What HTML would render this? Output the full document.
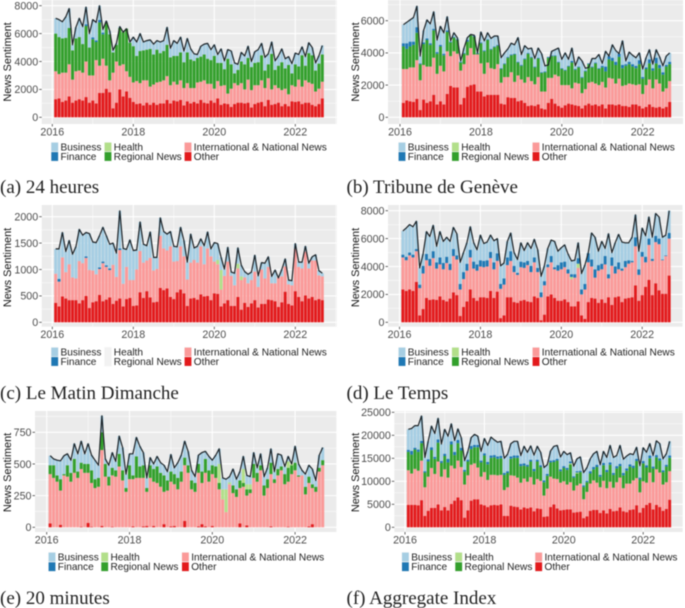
<!DOCTYPE html>
<html lang="en">
<head>
<meta charset="utf-8">
<title>News Sentiment by Outlet</title>
<style>
html,body{margin:0;padding:0;background:#fff;}
svg{display:block;filter:blur(0.45px);}
text{font-family:"Liberation Sans",sans-serif;}
.cap{font-family:"Liberation Serif",serif;font-size:19px;fill:#222;}
</style>
</head>
<body>
<svg id="fig" width="685" height="608" viewBox="0 0 685 608" xmlns="http://www.w3.org/2000/svg"></svg>
<script>
// Values. "Top" arrays are the upper edge of a stacked band;
// one row per calendar year: 2016 (Feb-Dec), 2017-2021, 2022 (Jan-Sep).
const legendLabels = ["Business","Finance","Health","Regional News","International & National News","Other"];
const xTickYears = [2016,2018,2020,2022];

// (a) 24 heures
const aYTicks = [0,2000,4000,6000,8000];
const aOther = [1300,1350,1100,1200,1500,1050,1200,1300,1200,1450,1050,
1200,1000,1750,1750,2050,1800,650,1050,2000,1500,1850,1400,
1100,950,1000,850,1050,900,1050,900,1000,1000,1250,1000,
1200,1150,1250,850,1150,1000,1100,1000,1250,1050,1000,1200,
1050,1350,900,1000,950,750,950,1050,1050,1000,1050,700,
950,1050,1100,800,1250,900,950,1050,800,950,800,1150,
1100,1150,950,1050,1050,900,800,950,1350];
const aIntlTop = [3300,3100,3200,3200,3800,2700,3300,3350,3200,4000,3000,
3000,4100,3700,4200,3700,2650,3200,4000,3700,3800,3300,2900,
2500,2600,2450,2650,2650,2200,2350,2500,2550,2650,2950,2300,
2550,2350,2650,2100,2450,2100,2100,2500,2550,2650,2400,2400,
2050,2600,2250,2300,1700,2050,2450,2300,2450,2000,2700,1950,
2300,2300,2650,2100,2800,2000,2300,2100,1950,2050,1650,2300,
2200,2700,2200,2650,2500,2400,1850,2050,2550];
const aRegionalTop = [6000,5750,5650,5700,6400,4800,5650,5750,5250,6550,5000,
5600,5400,6800,5950,6800,5950,4650,5200,6400,6100,6350,5350,
5100,4400,4750,4800,4850,4900,4500,4850,4600,4750,5200,4300,
4400,4400,4650,3950,4650,4150,4050,4250,4350,4500,4200,4100,
4400,3900,3900,3450,4200,3800,3150,3400,4000,3800,4250,3600,
3900,3950,4450,3350,3800,4550,3400,3700,3950,3500,3750,3150,
3800,3650,4450,3700,4600,4450,3350,3850,4500];
const aFinanceMonths = [9,11,12,13,14];
const aFinanceSizes = [120,120,120,180,120];
const aTotal = [7100,7000,6850,7200,7800,5200,6450,7100,6500,7900,6000,
7000,6800,8000,6300,6900,6200,4800,5300,6500,6100,6350,5400,
5750,5400,6000,5400,5500,5550,5250,5500,5400,5500,6450,4950,
5500,5300,5750,4750,5650,4900,4550,4500,5100,5250,5300,4850,
5200,4500,4900,4050,4850,4750,3900,3800,4650,4400,5100,4000,
4700,4850,5300,4300,4550,5400,4050,4400,4900,4200,4350,3850,
4600,4500,5050,4350,5350,5000,3900,4400,5150];

// (b) Tribune de Geneve
const bYTicks = [0,2000,4000,6000];
const bOther = [900,1050,1000,950,1150,450,1100,900,1000,1400,800,
1000,800,1450,1950,1850,1850,800,1200,1900,2000,2050,1600,
1600,1300,1400,1400,1400,1400,850,800,1250,1200,1200,1000,
1050,900,700,750,700,800,550,500,900,1150,850,700,
600,750,850,800,750,700,550,750,850,750,800,700,
800,550,800,800,750,800,700,700,650,800,800,700,
550,650,800,650,600,650,550,650,950];
const bIntlTop = [3000,3000,3100,3100,3550,2300,3250,3150,3150,3700,2700,
3200,2850,4100,3800,4100,3950,2900,3300,3850,4300,3900,3900,
3350,2700,3400,3050,3000,3300,2150,2500,2500,2800,2200,2600,
2350,2150,2500,2250,2050,2500,1600,1600,2450,2450,2650,2550,
2000,2000,2000,1800,2150,2100,1500,1750,2150,2200,2100,2000,
2200,1850,2450,2400,2100,2400,1950,2000,2100,2050,2000,2050,
1450,2000,2350,1800,2350,2100,1600,1800,2250];
const bRegionalTop = [4400,4250,4400,4500,5250,3300,4550,4800,4500,5400,3950,
4400,3850,5300,4650,4950,4800,3400,3950,4700,5100,5000,3950,
4600,4100,4800,4200,4350,4450,3000,3300,3700,3850,3900,3400,
3200,3600,3950,3700,3100,3650,2750,2800,3700,3800,3800,3400,
3000,2900,3150,3400,2950,3100,2450,2850,3300,3100,3350,3000,
3100,2850,3600,3500,3250,3750,3050,3200,3300,3150,3050,3300,
2400,3000,3350,2900,3350,3050,2650,3150,3300];
const bFinanceSizes = [200,350,300,200,350,50,100,100,100,100,100,
100,100,100,50,50,50,50,50,100,50,50,50,
50,50,50,50,50,50,50,50,50,50,50,50,
50,50,50,50,50,50,50,50,50,50,50,50,
50,50,50,100,50,50,50,50,50,50,50,50,
100,300,200,200,200,200,200,100,150,150,150,250,
100,100,250,150,350,200,150,100,150];
const bTotal = [5750,5900,6050,6200,6900,3800,5400,6050,5800,6550,4800,
5650,5250,6250,4750,5250,4950,3500,4300,4950,5150,5100,4000,
5300,4750,5250,4900,5050,5050,3700,4000,4250,4600,4500,4950,
3900,4450,4250,4300,3650,4300,3950,3200,3250,4100,4200,4300,
3600,4000,3600,4300,3200,3750,3500,3050,3100,3650,3650,3900,
3350,4100,3800,4500,4150,3950,4750,3500,4050,3850,3700,4000,
3000,3700,4200,3300,4200,3750,3200,3800,4000];

// (c) Le Matin Dimanche
const cYTicks = [0,500,1000,1500,2000];
const cOther = [370,300,490,450,420,420,420,360,420,500,270,
380,400,520,400,430,470,350,410,450,300,440,460,
310,320,570,460,590,470,380,390,650,610,640,480,
440,570,620,550,310,450,460,430,530,490,500,420,
550,540,300,360,420,310,310,480,240,370,290,360,
420,280,350,350,430,420,400,290,380,580,350,320,
590,480,400,510,450,480,420,440,420];
const cIntlTop = [920,770,1230,950,1100,850,830,1160,1120,1220,990,
980,910,1010,1120,1050,990,1090,860,1370,730,1050,800,
800,1000,1350,1130,1170,1220,980,1010,1640,1400,1360,1440,
1150,1160,1440,1250,810,1130,1180,1130,1440,1100,1400,1250,
1150,1100,620,880,1150,880,700,1020,800,850,740,800,
960,670,1000,830,1050,740,740,850,870,1060,720,700,
1390,1050,1020,1340,1020,1170,1170,890,870];
const cHealthMonths = [48,49,54,55];
const cHealthSizes = [80,370,90,70];
const cFinanceMonths = [1,9,13,14,15,16,19];
const cFinanceSizes = [50,30,30,30,30,30,30];
const cTotal = [1390,1390,1700,1340,1550,1290,1430,1760,1650,1700,1680,
1520,1510,1640,1800,1640,1480,1500,1310,2110,1400,1380,1560,
1360,1370,1900,1480,1450,1710,1230,1230,1980,1720,1670,1720,
1440,1430,1800,1550,1140,1670,1410,1440,1580,1450,1710,1390,
1510,1490,1230,1010,1420,950,930,1410,1080,960,910,950,
1270,880,1130,1120,1240,870,990,840,1000,1200,800,790,
1490,1140,1140,1440,1120,1240,1280,980,930];

// (d) Le Temps
const dYTicks = [0,2000,4000,6000,8000];
const dOther = [2350,2250,2350,2250,2900,500,950,1750,1600,1650,1600,
1850,1600,1500,1700,2150,1950,450,1100,1500,2350,1750,1550,
1800,1800,1750,2250,1750,2200,300,500,1800,1800,1450,1400,
1550,1600,1500,1450,1850,1750,150,550,1850,2000,1750,1550,
1550,1650,1450,1150,1150,1500,500,250,1450,1750,1700,1400,
1650,1400,1800,1250,1800,1850,1450,1700,1750,1800,2650,1550,
1950,2550,3050,1950,2800,2300,2050,2050,3350];
const dIntlTop = [4650,4450,4800,4650,5100,2450,3500,4450,4050,4600,3850,
4150,3800,4250,3750,4750,4500,2350,3100,3700,4650,3850,3700,
4000,3950,4000,4600,3800,4400,2400,2700,4100,4400,3600,3400,
3950,3900,4100,3600,4300,3600,1800,2650,3950,4300,3800,3700,
3800,3950,3500,3100,3200,3900,2000,2350,4300,4000,3200,3700,
3800,4150,3150,4050,3500,3800,3700,3950,4200,4300,5450,3400,
4700,4300,5550,4400,5750,5600,4450,4750,6000];
const dHealthMonths = [50,52];
const dHealthSizes = [150,300];
const dFinanceSizes = [200,250,200,200,150,250,550,450,500,500,450,
500,450,450,450,500,300,400,500,500,550,500,450,
450,450,450,450,500,550,350,450,550,700,450,150,
400,400,300,450,350,300,350,300,200,450,150,400,
500,400,300,200,250,400,350,400,650,500,600,400,
400,600,300,600,500,500,150,450,250,100,650,400,
350,400,450,150,450,400,50,50,400];
const dTotal = [6550,6750,7000,6850,7250,3900,4900,6500,6150,6950,5450,
6500,5800,6100,5800,6800,6350,4300,5000,5700,6850,5700,5200,
6250,5650,5750,6250,5850,6000,4050,4250,5800,6400,5000,4500,
5700,5150,5700,5300,5950,5200,3300,4050,5300,5900,5800,5100,
5350,5550,4900,4400,4450,5700,3500,4100,5000,6400,6100,5100,
5800,5300,6350,5000,5700,6300,5750,5700,5700,6100,7700,5100,
6750,6200,7550,6100,7800,7550,6100,6250,8000];

// (e) 20 minutes
const eYTicks = [0,250,500,750];
const eOther = [30,0,0,20,0,0,0,0,0,5,0,
35,5,0,0,10,0,0,5,0,0,0,0,
0,8,0,0,8,10,0,10,0,0,25,0,
8,10,0,0,50,0,0,0,8,25,8,0,
10,0,0,0,0,0,0,0,30,0,15,0,
0,0,0,0,0,8,0,0,0,0,5,0,
0,0,0,0,8,25,0,0,0];
const eIntlTop = [420,390,360,290,410,400,360,430,390,460,430,
430,350,310,320,610,400,330,410,400,480,370,280,
380,380,390,390,390,280,390,360,350,320,280,290,
360,340,300,360,490,430,300,280,430,350,430,360,
420,390,300,220,120,340,270,240,310,320,250,270,
390,360,450,250,310,420,350,410,450,340,360,420,
450,400,410,260,350,310,280,440,490];
const eRegionalTop = [490,490,410,380,420,490,430,540,440,510,500,
500,450,380,390,750,500,400,470,450,580,450,310,
490,410,560,480,490,310,490,460,480,430,410,370,
440,420,390,440,550,490,370,350,500,440,540,450,
490,480,350,220,120,340,330,300,370,350,300,300,
500,430,490,330,380,510,380,460,480,420,470,490,
510,410,410,320,400,340,320,470,530];
const eHealthMonths = [49,50,51,52,56,57,58,69,70];
const eHealthSizes = [150,80,180,15,110,40,40,50,10];
const eTotal = [565,540,530,525,565,580,530,660,580,680,580,
660,570,530,490,880,540,490,590,520,720,630,420,
580,580,710,640,590,390,550,500,560,510,490,440,
575,470,510,570,680,600,450,400,570,590,600,560,
530,570,620,390,380,400,460,380,440,560,410,400,
590,470,580,400,470,620,440,580,570,480,560,500,
640,500,450,420,490,460,370,570,630];

// (f) Aggregate Index
const fYTicks = [0,5000,10000,15000,20000,25000];
const fOther = [4900,4900,4900,4800,5900,2500,3600,4200,4200,5000,3700,
4400,3700,5100,5800,6500,5900,2100,3700,5800,6100,6100,5000,
4800,4400,4800,4900,4800,5000,2500,2500,4700,4500,4400,3900,
4300,4100,4300,3500,4100,4000,2300,2400,4400,5000,4100,3700,
3800,3900,3900,3200,3300,3400,2000,2400,3600,3800,3800,3100,
3700,3000,4000,3500,3600,4300,3500,3300,3800,3900,4800,3200,
4200,4900,5300,3900,4900,4400,3600,4000,6000];
const fIntlTop = [12400,11700,12700,12300,14500,8700,11000,12900,11600,14300,11000,
12600,10800,13400,12800,14500,13100,9300,11300,13600,13900,13000,11000,
12000,10300,11400,11400,11300,11400,8100,8700,11300,11200,10800,9700,
10600,9900,10900,9300,10500,10100,6900,8400,11000,10600,10500,9700,
10000,9300,9800,8000,9100,9500,6100,7700,9500,10200,9700,8700,
10100,8500,9900,8600,9800,10800,8500,9500,9500,10200,10700,7600,
10000,9700,11900,9800,12600,11900,9300,9800,12200];
const fRegionalTop = [16400,15800,16900,16400,18300,11900,14300,16800,14900,18400,14000,
15500,14100,18000,15700,18300,16700,12100,14300,17000,17400,17400,14100,
15600,13700,15100,15200,14900,15000,11400,11800,14900,15100,15100,13300,
13400,13200,14300,12200,14300,13100,9800,11200,14100,14200,14500,12200,
12900,12500,13700,10800,11700,12000,8800,9800,11700,12600,13100,11000,
13500,12000,13600,11400,12800,13300,11300,12300,13200,12900,14400,10400,
13900,13000,15000,12800,15200,14500,12000,13200,15100];
const fHealthMonths = [49,51];
const fHealthSizes = [200,200];
const fFinanceSizes = [450,800,400,500,500,300,500,600,400,700,400,
500,800,700,700,700,600,400,400,700,500,500,400,
500,500,500,500,500,500,400,400,500,500,500,500,
500,400,400,500,400,400,400,400,400,400,400,400,
400,400,400,300,300,300,300,300,500,500,500,400,
500,500,500,400,500,500,500,500,500,500,500,400,
500,500,600,400,500,500,400,400,500];
const fTotal = [21300,21500,22100,22100,24200,15200,18700,22000,20400,23700,18100,
21300,19800,22500,18900,21400,19500,14500,16500,19500,20200,19800,16500,
19300,17800,19600,19000,18500,18700,15000,15900,18200,18700,18700,15600,
17600,16300,17700,15700,17600,16300,13000,13600,16600,17600,17800,15300,
16500,15800,16200,13300,14900,15300,11900,13000,14900,16000,16500,13600,
16500,15200,17800,15200,15600,17800,14800,15500,16000,15800,17400,13400,
17300,16300,18200,15600,18800,18200,14900,16000,18700];

const colors = {business:"#a6cee3",finance:"#1f78b4",health:"#b2df8a",regional:"#33a02c",intl:"#fb9a99",other:"#e31a1c"};
const legendColors = [colors.business,colors.finance,colors.health,colors.regional,colors.intl,colors.other];

const panels = [
 {id:"a",caption:"(a) 24 heures",left:41.7,right:336.7,top:0,bottom:124,x0:52.3,xStep:40.5,y0:117.3,yTop:5.7,titleX:11,titleY:62,capX:0,capY:193,
  keyX:[51,104.3,184.3],keyY:[147,156.5],yTicks:aYTicks,other:aOther,intl:aIntlTop,regional:aRegionalTop,finMonths:aFinanceMonths,fin:aFinanceSizes,total:aTotal,missing:[]},
 {id:"b",caption:"(b) Tribune de Genève",left:388,right:683,top:0,bottom:124,x0:400,xStep:40.45,y0:117.3,yTop:20.7,titleX:359,titleY:62,capX:346.5,capY:193,
  keyX:[398.3,451.7,532.3],keyY:[147,156.5],yTicks:bYTicks,other:bOther,intl:bIntlTop,regional:bRegionalTop,fin:bFinanceSizes,total:bTotal,missing:[]},
 {id:"c",caption:"(c) Le Matin Dimanche",left:41.7,right:336.7,top:205,bottom:326.7,x0:52.3,xStep:40.5,y0:322.3,yTop:216.7,titleX:11,titleY:267.5,capX:0,capY:399,
  keyX:[51,104.3,184.3],keyY:[352,361.5],yTicks:cYTicks,other:cOther,intl:cIntlTop,healthMonths:cHealthMonths,health:cHealthSizes,finMonths:cFinanceMonths,fin:cFinanceSizes,total:cTotal,missing:[2,3]},
 {id:"d",caption:"(d) Le Temps",left:388,right:683,top:205,bottom:326.7,x0:399.5,xStep:40.45,y0:322.3,yTop:210.7,titleX:359,titleY:267.5,capX:346.5,capY:399,
  keyX:[398.3,451.7,532.3],keyY:[352,361.5],yTicks:dYTicks,other:dOther,intl:dIntlTop,healthMonths:dHealthMonths,health:dHealthSizes,fin:dFinanceSizes,total:dTotal,missing:[]},
 {id:"e",caption:"(e) 20 minutes",left:35,right:336.7,top:411,bottom:532,x0:46.7,xStep:41.4,y0:527.3,yTop:432.3,titleX:11,titleY:472.5,capX:0,capY:604,
  keyX:[48.3,101,181.7],keyY:[557,566.7],yTicks:eYTicks,other:eOther,intl:eIntlTop,regional:eRegionalTop,healthMonths:eHealthMonths,health:eHealthSizes,total:eTotal,missing:[]},
 {id:"f",caption:"(f) Aggregate Index",left:394.3,right:683,top:411,bottom:532,x0:405,xStep:39.7,y0:527.3,yTop:412.3,titleX:359,titleY:472.5,capX:346.5,capY:604,
  keyX:[401.7,455,535],keyY:[557,566.7],yTicks:fYTicks,other:fOther,intl:fIntlTop,regional:fRegionalTop,healthMonths:fHealthMonths,health:fHealthSizes,fin:fFinanceSizes,total:fTotal,missing:[]}
];

const NS = "http://www.w3.org/2000/svg";
const fig = document.getElementById("fig");

function mk(parent, tag, attrs) {
  const el = document.createElementNS(NS, tag);
  for (const k in attrs) el.setAttribute(k, attrs[k]);
  parent.appendChild(el);
  return el;
}
function sparseValue(months, sizes, i) {
  if (!sizes) return 0;
  if (!months) return sizes[i] || 0;
  const j = months.indexOf(i);
  return j < 0 ? 0 : sizes[j];
}

function drawPanel(p) {
  const g = mk(fig, "g", {});
  
  

  const xScale = function (monthsSince2016) { return p.x0 + monthsSince2016 * p.xStep / 12; };
  const tickMax = p.yTicks[p.yTicks.length - 1];
  const yScale = function (v) { return p.y0 - v * (p.y0 - p.yTop) / tickMax; };

  const bg = mk(g, "rect", {x:p.left, y:p.top, width:p.right - p.left, height:p.bottom - p.top, fill:"#ebebeb"});
  
  

  // minor grid
  const tickStep = p.yTicks[1] - p.yTicks[0];
  for (let i = 0; i < p.yTicks.length; i++) {
    const my = yScale(p.yTicks[i] + tickStep / 2);
    if (my > p.top) {
      const l = mk(g, "line", {x1:p.left, x2:p.right, y1:my, y2:my, stroke:"#fff", "stroke-width":0.5});
      
      
    }
  }
  for (let yr = 1; yr <= 7; yr += 2) {
    const mx = xScale(yr * 12);
    if (mx < p.right) {
      const l = mk(g, "line", {x1:mx, x2:mx, y1:p.top, y2:p.bottom, stroke:"#fff", "stroke-width":0.5});
      
      
    }
  }
  // major grid, ticks, labels
  p.yTicks.forEach(function (v) {
    const y = yScale(v);
    const l = mk(g, "line", {x1:p.left, x2:p.right, y1:y, y2:y, stroke:"#fff", "stroke-width":1.1});
    
    
    const t = mk(g, "line", {x1:p.left - 2.5, x2:p.left, y1:y, y2:y, stroke:"#444", "stroke-width":0.8});
    
    
    const lab = mk(g, "text", {x:p.left - 3.5, y:y + 3.8, "text-anchor":"end", "font-size":10.7, fill:"#4d4d4d"});
    lab.textContent = String(v);
    
    
  });
  xTickYears.forEach(function (yr) {
    const x = xScale((yr - 2016) * 12);
    const l = mk(g, "line", {x1:x, x2:x, y1:p.top, y2:p.bottom, stroke:"#fff", "stroke-width":1.1});
    
    
    const t = mk(g, "line", {x1:x, x2:x, y1:p.bottom, y2:p.bottom + 2.5, stroke:"#444", "stroke-width":0.8});
    
    
    const lab = mk(g, "text", {x:x, y:p.bottom + 11.5, "text-anchor":"middle", "font-size":10.7, fill:"#4d4d4d"});
    lab.textContent = String(yr);
    
    
  });

  // stacked bars
  const barWidth = p.xStep / 12 * 0.88;
  function band(i, lo, hi, color, name) {
    if (hi <= lo) return;
    const r = mk(g, "rect", {x:xScale(i + 1) - barWidth / 2, y:yScale(hi), width:barWidth, height:yScale(lo) - yScale(hi), fill:color});
    
    
  }
  const linePts = [];
  p.total.forEach(function (total, i) {
    const l1 = p.other[i];
    const l2 = p.intl[i];
    const l3 = p.regional ? p.regional[i] : l2;
    const l4 = l3 + sparseValue(p.healthMonths, p.health, i);
    const l5 = l4 + sparseValue(p.finMonths, p.fin, i);
    band(i, 0, l1, colors.other, "other");
    band(i, l1, l2, colors.intl, "international-national-news");
    band(i, l2, l3, colors.regional, "regional-news");
    band(i, l3, l4, colors.health, "health");
    band(i, l4, l5, colors.finance, "finance");
    band(i, l5, total, colors.business, "business");
    linePts.push(xScale(i + 1).toFixed(1) + "," + yScale(total).toFixed(1));
  });
  const line = mk(g, "polyline", {points:linePts.join(" "), fill:"none", stroke:"#1c2226", "stroke-width":1.2, "stroke-linejoin":"round"});
  
  

  // y-axis title
  const title = mk(g, "text", {x:p.titleX, y:p.titleY, "text-anchor":"middle", "font-size":10.9, fill:"#111", transform:"rotate(-90 " + p.titleX + " " + p.titleY + ")"});
  title.textContent = "News Sentiment";
  
  

  // legend: column-wise order
  legendLabels.forEach(function (label, i) {
    const col = Math.floor(i / 2);
    const row = i % 2;
    const kx = p.keyX[col];
    const ky = p.keyY[row];
    const key = mk(g, "rect", {x:kx, y:ky - 4.8, width:7.4, height:9.6, fill:"#f2f2f2"});
    
    
    if (p.missing.indexOf(i) < 0) {
      const sw = mk(g, "rect", {x:kx + 0.3, y:ky - 4.4, width:6.8, height:8.8, fill:legendColors[i]});
      
      
    }
    const t = mk(g, "text", {x:kx + 9.5, y:ky + 3.5, "font-size":10.1, fill:"#222"});
    t.textContent = label;
    
    
  });

  // caption
  const cap = mk(g, "text", {x:p.capX, y:p.capY, "class":"cap"});
  cap.textContent = p.caption;
  
  
}
panels.forEach(drawPanel);
</script>
</body>
</html>
